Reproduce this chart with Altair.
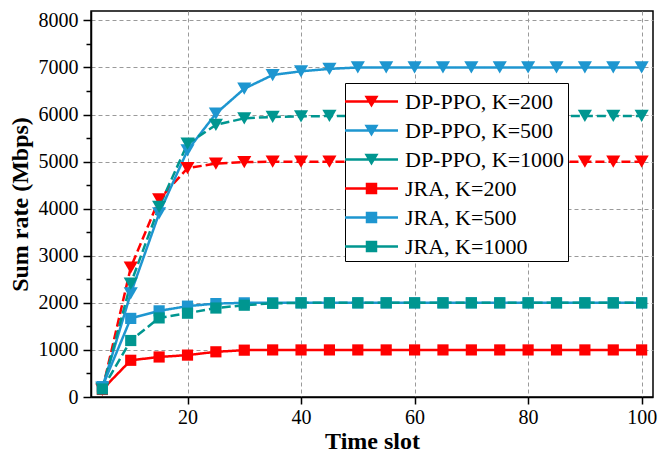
import altair as alt
import pandas as pd

time_slot = [5, 10, 15, 20, 25, 30, 35, 40, 45, 50, 55, 60, 65, 70, 75, 80, 85, 90, 95, 100]

dp_ppo_k200 = [150, 2750, 4200, 4860, 4960, 4990, 5000, 5000, 5000, 5000,
               5000, 5000, 5000, 5000, 5000, 5000, 5000, 5000, 5000, 5000]
dp_ppo_k500 = [200, 2200, 3900, 5240, 6020, 6550, 6840, 6920, 6970, 7000,
               7000, 7000, 7000, 7000, 7000, 7000, 7000, 7000, 7000, 7000]
dp_ppo_k1000 = [170, 2410, 4040, 5380, 5780, 5920, 5950, 5960, 5970, 5970,
                5970, 5970, 5970, 5970, 5970, 5970, 5970, 5970, 5970, 5970]
jra_k200 = [160, 780, 850, 890, 960, 995, 1000, 1000, 1000, 1000,
            1000, 1000, 1000, 1000, 1000, 1000, 1000, 1000, 1000, 1000]
jra_k500 = [220, 1670, 1830, 1930, 1985, 2000, 2000, 2000, 2000, 2000,
            2000, 2000, 2000, 2000, 2000, 2000, 2000, 2000, 2000, 2000]
jra_k1000 = [170, 1200, 1680, 1780, 1890, 1950, 1990, 2000, 2000, 2000,
             2000, 2000, 2000, 2000, 2000, 2000, 2000, 2000, 2000, 2000]

series_names = ["DP-PPO, K=200", "DP-PPO, K=500", "DP-PPO, K=1000",
                "JRA, K=200", "JRA, K=500", "JRA, K=1000"]
series_methods = ["DP-PPO", "DP-PPO", "DP-PPO", "JRA", "JRA", "JRA"]
series_values = [dp_ppo_k200, dp_ppo_k500, dp_ppo_k1000, jra_k200, jra_k500, jra_k1000]
series_colors = ["#ff0000", "#1e96d0", "#009690", "#ff0000", "#1e96d0", "#009690"]
series_dashes = [[9, 4], [1, 0], [9, 4], [1, 0], [1, 0], [9, 4]]

y_major = [0, 1000, 2000, 3000, 4000, 5000, 6000, 7000, 8000]
y_minor = [500, 1500, 2500, 3500, 4500, 5500, 6500, 7500]
x_major = [20, 40, 60, 80, 100]

rows = []
for name, method, vals in zip(series_names, series_methods, series_values):
    for t, v in zip(time_slot, vals):
        rows.append({"t": t, "v": v, "series": name, "method": method})
df = pd.DataFrame(rows)
legend_df = pd.DataFrame({"entry": series_names})
minor_df = pd.DataFrame({"v": y_minor})

FONT = "Liberation Serif"

color_scale = alt.Scale(domain=series_names, range=series_colors)
x_scale = alt.Scale(domain=[3, 102], nice=False, zero=False)
y_scale = alt.Scale(domain=[0, 8200], nice=False, zero=False)

tri_path = "M-1.71,-0.083H1.71V0.083H-1.71Z M-0.455,-0.37L0.455,-0.37L0,0.39Z"
sq_path = "M-1.71,-0.083H1.71V0.083H-1.71Z M-0.37,-0.37H0.37V0.37H-0.37Z"
legend_shapes = [tri_path, tri_path, tri_path, sq_path, sq_path, sq_path]

x_axis = alt.Axis(values=x_major, title="Time slot", grid=True, format="d",
                  gridDash=[4, 3], gridColor="#9a9a9a", gridWidth=1,
                  tickSize=7, labelPadding=3, titlePadding=2)
y_axis = alt.Axis(values=y_major, title="Sum rate (Mbps)", grid=True, format="d",
                  gridDash=[4, 3], gridColor="#9a9a9a", gridWidth=1,
                  tickSize=8, labelPadding=5, titlePadding=6, orient="left")

base = alt.Chart(df)

lines = base.mark_line(strokeWidth=2.5).encode(
    x=alt.X("t:Q", scale=x_scale, axis=x_axis),
    y=alt.Y("v:Q", scale=y_scale, axis=y_axis),
    color=alt.Color("series:N", scale=color_scale, legend=None),
    strokeDash=alt.StrokeDash("series:N",
                              scale=alt.Scale(domain=series_names, range=series_dashes),
                              legend=None),
    detail="series:N",
)

tri = base.transform_filter(alt.datum.method == "DP-PPO").mark_point(
    shape="triangle-down", filled=True, size=200, opacity=1
).encode(
    x=alt.X("t:Q", scale=x_scale),
    y=alt.Y("v:Q", scale=y_scale, axis=None),
    color=alt.Color("series:N", scale=color_scale, legend=None),
)

sq = base.transform_filter(alt.datum.method == "JRA").mark_point(
    shape="square", filled=True, size=125, opacity=1
).encode(
    x=alt.X("t:Q", scale=x_scale),
    y=alt.Y("v:Q", scale=y_scale, axis=None),
    color=alt.Color("series:N", scale=color_scale, legend=None),
)

legend_props = dict(
    title=None, orient="none", legendX=254, legendY=72,
    fillColor="white", strokeColor="black",
    padding=3, symbolSize=961, symbolStrokeWidth=0, symbolOffset=8,
    labelFont=FONT, labelFontSize=22, labelColor="black",
    labelOffset=18, rowPadding=2, labelLimit=400,
)

legend_layer = alt.Chart(legend_df).mark_point(
    filled=True, opacity=1, size=0
).encode(
    color=alt.Color("entry:N",
                    scale=alt.Scale(domain=series_names, range=series_colors),
                    legend=alt.Legend(**legend_props)),
    shape=alt.Shape("entry:N",
                    scale=alt.Scale(domain=series_names, range=legend_shapes),
                    legend=alt.Legend(**legend_props)),
)

minor_layer = alt.Chart(minor_df).mark_point(opacity=0).encode(
    y=alt.Y("v:Q", scale=y_scale,
            axis=alt.Axis(values=y_minor, labels=False, grid=False, domain=False,
                          tickSize=5, title=None, orient="left")),
)

chart = alt.layer(lines, tri, sq, legend_layer, minor_layer).resolve_axis(
    y="independent"
).resolve_scale(
    color="independent", shape="independent"
).properties(
    width=562, height=386,
    autosize="none",
    padding={"left": 91, "top": 11, "right": 5, "bottom": 58},
    background="white",
).configure_view(
    stroke="black", strokeWidth=1.5
).configure_axis(
    domainColor="black", domainWidth=1.5, tickColor="black", tickWidth=1.5,
    labelFont=FONT, labelFontSize=20, labelColor="black",
    titleFont=FONT, titleFontSize=24, titleFontWeight="bold", titleColor="black",
)

chart.save("out.html", embed_options={"renderer": "svg", "actions": False})
